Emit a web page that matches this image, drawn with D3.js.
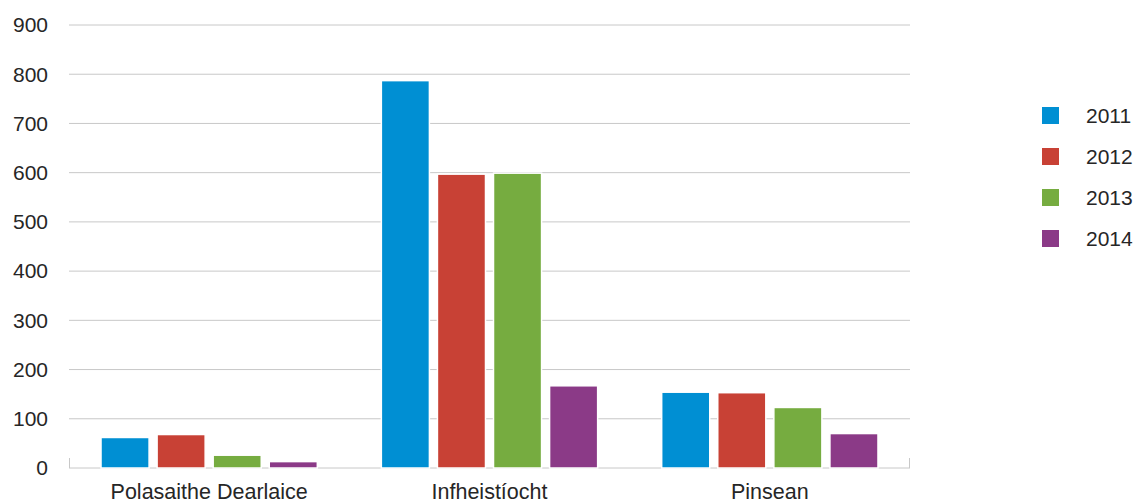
<!DOCTYPE html>
<html>
<head>
<meta charset="utf-8">
<script src="https://cdn.jsdelivr.net/npm/d3@7"></script>
<style>
  body { margin: 0; background: #fff; }
  text { font-family: "Liberation Sans", Arial, sans-serif; fill: #262626; }
</style>
</head>
<body>
<div id="chart"></div>
<script>
// Data
const categories = ["Polasaithe Dearlaice", "Infheistíocht", "Pinsean"];
const years = ["2011", "2012", "2013", "2014"];
const values2011 = [62, 787, 154];
const values2012 = [68, 597, 153];
const values2013 = [26, 599, 123];
const values2014 = [13, 167, 70];
const yTicks = [0, 100, 200, 300, 400, 500, 600, 700, 800, 900];
const colors = ["#008fd3", "#c84135", "#76ac40", "#8b3a87"];

const seriesValues = [values2011, values2012, values2013, values2014];

// Size + margins
const W = 1138, H = 504;
const margin = { top: 25, right: 228, bottom: 36, left: 69 };
const width  = W - margin.left - margin.right;
const height = H - margin.top - margin.bottom;

const svg = d3.select("#chart")
  .append("svg")
  .attr("width", W)
  .attr("height", H);

const g = svg.append("g")
  .attr("transform", `translate(${margin.left},${margin.top})`);

// Scales
const x0 = d3.scaleBand().domain(categories).range([0, width]).padding(0);
const x1 = d3.scaleBand().domain(years).range([0, x0.bandwidth()])
  .paddingInner(0.143).paddingOuter(0.571);
const y = d3.scaleLinear().domain([0, 900]).range([height, 0]);

// Gridlines
g.append("g")
  .selectAll("line")
  .data(yTicks)
  .join("line")
  .attr("x1", 0)
  .attr("x2", width)
  .attr("y1", d => y(d))
  .attr("y2", d => y(d))
  .attr("stroke", "#c8c8c8")
  .attr("stroke-width", 1);

// Axis end ticks
g.append("line").attr("x1", 0.5).attr("x2", 0.5)
  .attr("y1", height - 10).attr("y2", height).attr("stroke", "#c8c8c8");
g.append("line").attr("x1", width - 0.5).attr("x2", width - 0.5)
  .attr("y1", height - 10).attr("y2", height).attr("stroke", "#c8c8c8");

// Y tick labels
g.append("g")
  .selectAll("text")
  .data(yTicks)
  .join("text")
  .attr("x", -21)
  .attr("y", d => y(d))
  .attr("dy", "0.35em")
  .attr("text-anchor", "end")
  .style("font-size", "21px")
  .text(d => d);

// Bars
const groups = g.append("g")
  .selectAll("g")
  .data(categories)
  .join("g")
  .attr("transform", d => `translate(${x0(d)},0)`);

groups.selectAll("rect")
  .data((c, i) => years.map((yr, j) => ({ year: yr, value: seriesValues[j][i] })))
  .join("rect")
  .attr("x", d => x1(d.year))
  .attr("y", d => y(d.value))
  .attr("width", x1.bandwidth())
  .attr("height", d => height - y(d.value))
  .attr("fill", (d, j) => colors[j])
  .attr("stroke", "#fff")
  .attr("stroke-width", 1.5);

// Category labels
g.append("g")
  .selectAll("text")
  .data(categories)
  .join("text")
  .attr("x", d => x0(d) + x0.bandwidth() / 2)
  .attr("y", height + 31)
  .attr("text-anchor", "middle")
  .style("font-size", "21.5px")
  .text(d => d);

// Legend
const legend = svg.append("g")
  .attr("transform", "translate(1042,107)");

const items = legend.selectAll("g")
  .data(years)
  .join("g")
  .attr("transform", (d, i) => `translate(0,${i * 41})`);

items.append("rect")
  .attr("width", 17)
  .attr("height", 17)
  .attr("fill", (d, i) => colors[i]);

items.append("text")
  .attr("x", 44)
  .attr("y", 8.5)
  .attr("dy", "0.35em")
  .style("font-size", "21px")
  .text(d => d);
</script>
</body>
</html>
